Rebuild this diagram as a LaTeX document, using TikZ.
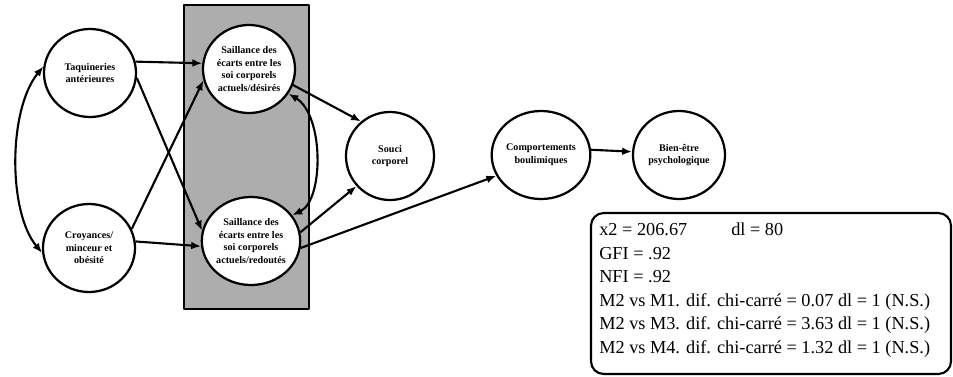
\documentclass[tikz,border=0pt]{standalone}
\usepackage{fontspec}
\setmainfont{Liberation Serif}
\usepackage{tikz}
\usetikzlibrary{arrows.meta,shapes.geometric}

\begin{document}
\begin{tikzpicture}[x=0.025cm,y=-0.025cm,>={Latex[length=7pt,width=5.5pt]},line join=round,
  var/.style={draw,ellipse,line width=1.6pt,fill=white,minimum width=2.3cm,
    minimum height=2.2cm,inner sep=0pt,align=center,
    font=\fontsize{7.2}{9}\selectfont\bfseries},
  path/.style={->,line width=1.5pt},
  both/.style={<->,line width=1.5pt}]
  \useasboundingbox (0,0) rectangle (953,376);

  % ---- shaded block behind the two saliences ------------------------------
  \draw[line width=1.6pt,fill=black!32] (184,5) rectangle (309,309);

  % ---- latent variables ----------------------------------------------------
  \node[var] (taq)   at (90,73)   {Taquineries\\antérieures};
  \node[var] (croy)  at (89,248)  {Croyances/\\minceur et\\obésité};
  \node[var] (sdes)  at (249,69)  {Saillance des\\écarts entre les\\soi corporels\\actuels/désirés};
  \node[var] (sred)  at (251,241) {Saillance des\\écarts entre les\\soi corporels\\actuels/redoutés};
  \node[var,minimum width=2.2cm] (souci) at (390,156) {Souci\\corporel};
  \node[var] (comp)  at (541,155) {Comportements\\boulimiques};
  \node[var] (bien)  at (679,155) {Bien-être\\psychologique};

  % ---- correlations --------------------------------------------------------
  \draw[both] (taq.172) .. controls (8,110) and (8,212) .. (croy.186);
  \draw[both] (sdes.-32) .. controls (324,115) and (324,200) .. (sred.32);

  % ---- paths ---------------------------------------------------------------
  \draw[path] (taq.14)   -- (sdes.173);
  \draw[path] (taq.-6)   -- (sred.168);
  \draw[path] (croy.24)  -- (sdes.194);
  \draw[path] (croy.8)   -- (sred.186);
  \draw[path] (sdes.-20) -- (souci.130);
  \draw[path] (sred.10)  -- (souci.222);
  \draw[path] (sred.-8)  -- (comp.205);
  \draw[path] (comp.6)   -- (bien.176);

  % ---- fit statistics ------------------------------------------------------
  \draw[line width=1.5pt,rounded corners=9pt] (591,213) rectangle (951,374);
  \node[anchor=north west,align=left,inner sep=0pt,
        font=\fontsize{13}{16.7}\selectfont] (fit) at (599,223)
    {\makebox[3.3cm][l]{x2 = 206.67}dl = 80\\
     GFI = .92\\
     NFI = .92\\
     M2 vs M1. dif. chi-carré = 0.07 dl = 1 (N.S.)\\
     M2 vs M3. dif. chi-carré = 3.63 dl = 1 (N.S.)\\
     M2 vs M4. dif. chi-carré = 1.32 dl = 1 (N.S.)};
\end{tikzpicture}
\end{document}
